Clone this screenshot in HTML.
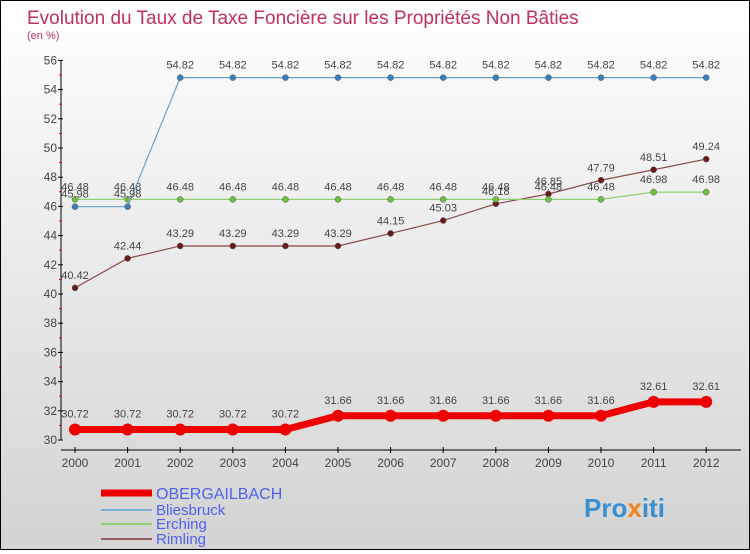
<!DOCTYPE html>
<html><head><meta charset="utf-8"><style>
body{margin:0;width:750px;height:550px;overflow:hidden;font-family:"Liberation Sans",sans-serif}
#wrap{position:relative;width:748px;height:548px;border:1px solid #000;background:linear-gradient(#fff,#d3d3d3)}
</style></head><body>
<div id="wrap">
<svg id="chart" width="748" height="548">
<text x="26" y="23" font-size="19" fill="#c03060">Evolution du Taux de Taxe Foncière sur les Propriétés Non Bâties</text>
<text x="26" y="38" font-size="11" fill="#c03060">(en %)</text>
<text x="583" y="516" font-size="26" font-weight="bold" fill="#3a8fd0">Pro<tspan fill="#f08020">x</tspan>iti</text>
</svg></div>
<script>
const years=[2000,2001,2002,2003,2004,2005,2006,2007,2008,2009,2010,2011,2012];
const oberg=[30.72,30.72,30.72,30.72,30.72,31.66,31.66,31.66,31.66,31.66,31.66,32.61,32.61];
const blies=[45.98,45.98,54.82,54.82,54.82,54.82,54.82,54.82,54.82,54.82,54.82,54.82,54.82];
const erch=[46.48,46.48,46.48,46.48,46.48,46.48,46.48,46.48,46.48,46.48,46.48,46.98,46.98];
const riml=[40.42,42.44,43.29,43.29,43.29,43.29,44.15,45.03,46.18,46.85,47.79,48.51,49.24];
const yTicks=[30,32,34,36,38,40,42,44,46,48,50,52,54,56];
const NS='http://www.w3.org/2000/svg';
const svg=document.getElementById('chart');
const X=i=>74+i*52.6, Y=v=>439-(v-30)*14.6;
function mk(t,a,p){const e=document.createElementNS(NS,t);for(const k in a)e.setAttribute(k,a[k]);(p||svg).appendChild(e);return e;}
const ax=mk('line',{x1:60,y1:Y(56),x2:60,y2:Y(30),stroke:'#000'});

const bx=mk('line',{x1:60,y1:449,x2:740,y2:449,stroke:'#000'});

yTicks.forEach(v=>{
 mk('line',{x1:57,y1:Y(v),x2:62,y2:Y(v),stroke:'#000'});
 if(v<56)mk('line',{x1:58,y1:Y(v+1),x2:61,y2:Y(v+1),stroke:'#e00'});
 const t=mk('text',{x:56,y:Y(v)+4,'font-size':12,'text-anchor':'end',fill:'#444'});t.textContent=v;
 
});
years.forEach((y,i)=>{
 mk('line',{x1:X(i),y1:446,x2:X(i),y2:452,stroke:'#000'});
 const t=mk('text',{x:X(i),y:466,'font-size':12,'text-anchor':'middle',fill:'#444'});t.textContent=y;
 
});
function series(d,col,w,r,name,fill){
 const g=mk('g',{});
 mk('polyline',{points:d.map((v,i)=>X(i)+','+Y(v)).join(' '),fill:'none',stroke:col,'stroke-width':w},g);
 d.forEach((v,i)=>{
  const c=mk('circle',{cx:X(i),cy:Y(v),r:r,fill:fill,stroke:fill==col?'none':'#555','stroke-width':0.5},g);
  
  const t=mk('text',{x:X(i),y:Y(v)-(r+6),'font-size':11,'text-anchor':'middle',fill:'#444'},g);t.textContent=v.toFixed(2);
  
 });
}
series(riml,'#8a4a4a',1.2,3,'rimling','#6a1a1a');
series(erch,'#90d070',1.2,3,'erching','#70c040');
series(blies,'#6aa0d0',1.2,3,'bliesbruck','#3a80c0');
series(oberg,'#e00',7,6,'obergailbach','#e00');
const leg=[['OBERGAILBACH','#e00',7,16],['Bliesbruck','#7ab0d0',2,15],['Erching','#90d070',2,15],['Rimling','#946060',2,15]];
[492,509,523,538].forEach((yy,i)=>{
 const g=mk('g',{});
 mk('line',{x1:100,y1:yy,x2:151,y2:yy,stroke:leg[i][1],'stroke-width':leg[i][2]},g);
 const t=mk('text',{x:155,y:yy+(i?5:6),'font-size':leg[i][3],fill:'#5060f0'},g);t.textContent=leg[i][0];
});
</script>
</body></html>
